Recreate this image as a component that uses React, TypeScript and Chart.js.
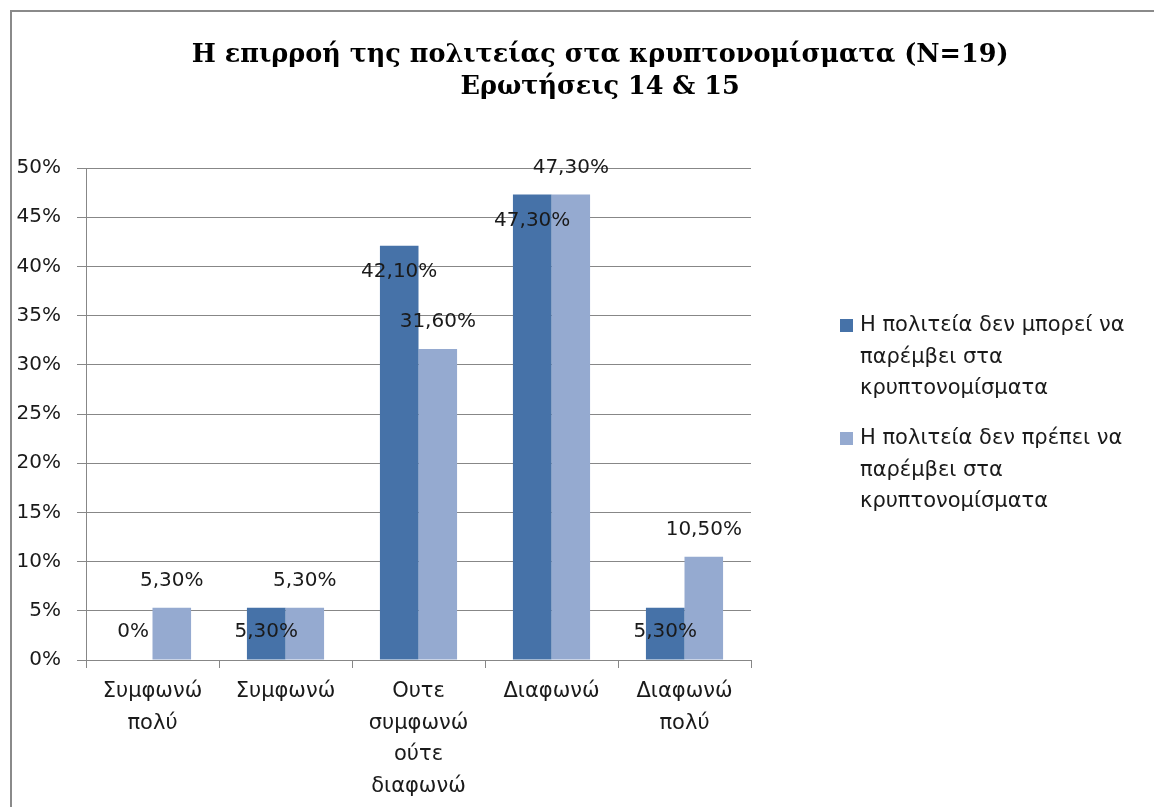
import React, { useEffect, useRef } from "react";
import { Chart, registerables } from "chart.js";

Chart.register(...registerables);

const titleLines = ["Η επιρροή της πολιτείας στα κρυπτονομίσματα (N=19)", "Ερωτήσεις 14 & 15"];
const categories = [
  ["Συμφωνώ", "πολύ"],
  ["Συμφωνώ"],
  ["Ουτε", "συμφωνώ", "ούτε", "διαφωνώ"],
  ["Διαφωνώ"],
  ["Διαφωνώ", "πολύ"],
];
const seriesNames = [
  "Η πολιτεία δεν μπορεί να παρέμβει στα κρυπτονομίσματα",
  "Η πολιτεία δεν πρέπει να παρέμβει στα κρυπτονομίσματα",
];
const legendLines = [
  ["Η πολιτεία δεν μπορεί να", "παρέμβει στα", "κρυπτονομίσματα"],
  ["Η πολιτεία δεν πρέπει να", "παρέμβει στα", "κρυπτονομίσματα"],
];
const cannotValues = [0, 5.3, 42.1, 47.3, 5.3];
const shouldNotValues = [5.3, 5.3, 31.6, 47.3, 10.5];
const seriesColors = ["#4672A8", "#95AAD0"];
const yMin = 0;
const yMax = 50;
const yStep = 5;

const FONT = "'DejaVu Sans', 'Noto Sans', sans-serif";
const TEXT_COLOR = "#1a1a1a";
const GRID_COLOR = "#878787";

function fmt(v: number): string {
  if (v === 0) return "0%";
  return v.toFixed(2).replace(".", ",") + "%";
}

const titlePlugin = {
  id: "customTitle",
  afterDraw(chart: any) {
    const ctx = chart.ctx;
    ctx.save();
    ctx.fillStyle = "#000";
    ctx.font = "bold 25.5px 'DejaVu Serif', serif";
    ctx.textAlign = "center";
    ctx.textBaseline = "alphabetic";
    const cx = chart.width * 0.515;
    titleLines.forEach((t, i) => {
      ctx.fillText(t, cx, 50 + i * 32);
    });
    ctx.restore();
  },
};

const dataLabelPlugin = {
  id: "dataLabels",
  afterDatasetsDraw(chart: any) {
    const ctx = chart.ctx;
    ctx.save();
    ctx.font = "20px " + FONT;
    ctx.fillStyle = TEXT_COLOR;
    ctx.textAlign = "center";
    ctx.textBaseline = "middle";
    chart.data.datasets.forEach((ds: any, di: number) => {
      const meta = chart.getDatasetMeta(di);
      meta.data.forEach((bar: any, i: number) => {
        const v = ds.data[i];
        let y;
        if (di === 0) {
          y = Math.min(bar.y + 26, bar.base - 28);
        } else {
          y = bar.y - 27;
        }
        ctx.fillText(fmt(v), bar.x, y);
      });
    });
    ctx.restore();
  },
};

const legendPlugin = {
  id: "customLegend",
  afterDraw(chart: any) {
    const ctx = chart.ctx;
    const ca = chart.chartArea;
    const lineH = 31.5;
    const gap = 18.5;
    const total = legendLines.reduce((s, l) => s + l.length * lineH, 0) + gap * (legendLines.length - 1);
    let y = (ca.top + ca.bottom) / 2 - total / 2;
    const x0 = ca.right + 89;
    ctx.save();
    ctx.font = "21px " + FONT;
    ctx.textAlign = "left";
    ctx.textBaseline = "middle";
    legendLines.forEach((lines, i) => {
      ctx.fillStyle = seriesColors[i];
      ctx.fillRect(x0, y + lineH / 2 - 7, 13, 13);
      ctx.fillStyle = TEXT_COLOR;
      lines.forEach((ln, j) => {
        ctx.fillText(ln, x0 + 20, y + lineH / 2 + j * lineH);
      });
      y += lines.length * lineH + gap;
    });
    ctx.restore();
  },
};

export default function App() {
  const ref = useRef<HTMLCanvasElement | null>(null);
  useEffect(() => {
    if (!ref.current) return;
    const chart = new Chart(ref.current, {
      type: "bar",
      data: {
        labels: categories as any,
        datasets: [
          {
            label: seriesNames[0],
            data: cannotValues,
            backgroundColor: seriesColors[0],
            borderWidth: 0,
            categoryPercentage: 0.58,
            barPercentage: 1,
          },
          {
            label: seriesNames[1],
            data: shouldNotValues,
            backgroundColor: seriesColors[1],
            borderWidth: 0,
            categoryPercentage: 0.58,
            barPercentage: 1,
          },
        ],
      },
      options: {
        responsive: false,
        animation: false,
        layout: { padding: { top: 156, right: 403, left: 0, bottom: 0 } },
        plugins: {
          legend: { display: false },
          title: { display: false },
          tooltip: { enabled: false },
        },
        scales: {
          x: {
            afterFit(scale: any) {
              scale.height = 147;
            },
            grid: {
              offset: true,
              drawOnChartArea: false,
              color: GRID_COLOR,
              tickLength: 8,
            },
            border: { display: true, color: GRID_COLOR, width: 1 },
            ticks: {
              color: TEXT_COLOR,
              font: { family: FONT, size: 21, lineHeight: "31.5px" as any },
              padding: 8,
              maxRotation: 0,
              autoSkip: false,
            },
          },
          y: {
            min: yMin,
            max: yMax,
            afterFit(scale: any) {
              scale.width = 74;
            },
            grid: {
              color: GRID_COLOR,
              tickLength: 9,
              lineWidth: 1,
            },
            border: { display: true, color: GRID_COLOR, width: 1 },
            ticks: {
              stepSize: yStep,
              color: TEXT_COLOR,
              font: { family: FONT, size: 20 },
              padding: 16,
              callback: (v: any) => v + "%",
            },
          },
        },
      },
      plugins: [titlePlugin, dataLabelPlugin, legendPlugin],
    });
    return () => chart.destroy();
  }, []);

  return (
    <div style={{ position: "fixed", left: 0, top: 0, width: 1154, height: 807, overflow: "hidden", background: "#fff" }}>
      <div
        style={{
          position: "absolute",
          left: 10,
          top: 10,
          width: 1300,
          height: 900,
          borderLeft: "2px solid #8a8a8a",
          borderTop: "2px solid #8a8a8a",
        }}
      >
        <canvas ref={ref} width={1142} height={795} style={{ display: "block", width: 1142, height: 795 }} />
      </div>
    </div>
  );
}
